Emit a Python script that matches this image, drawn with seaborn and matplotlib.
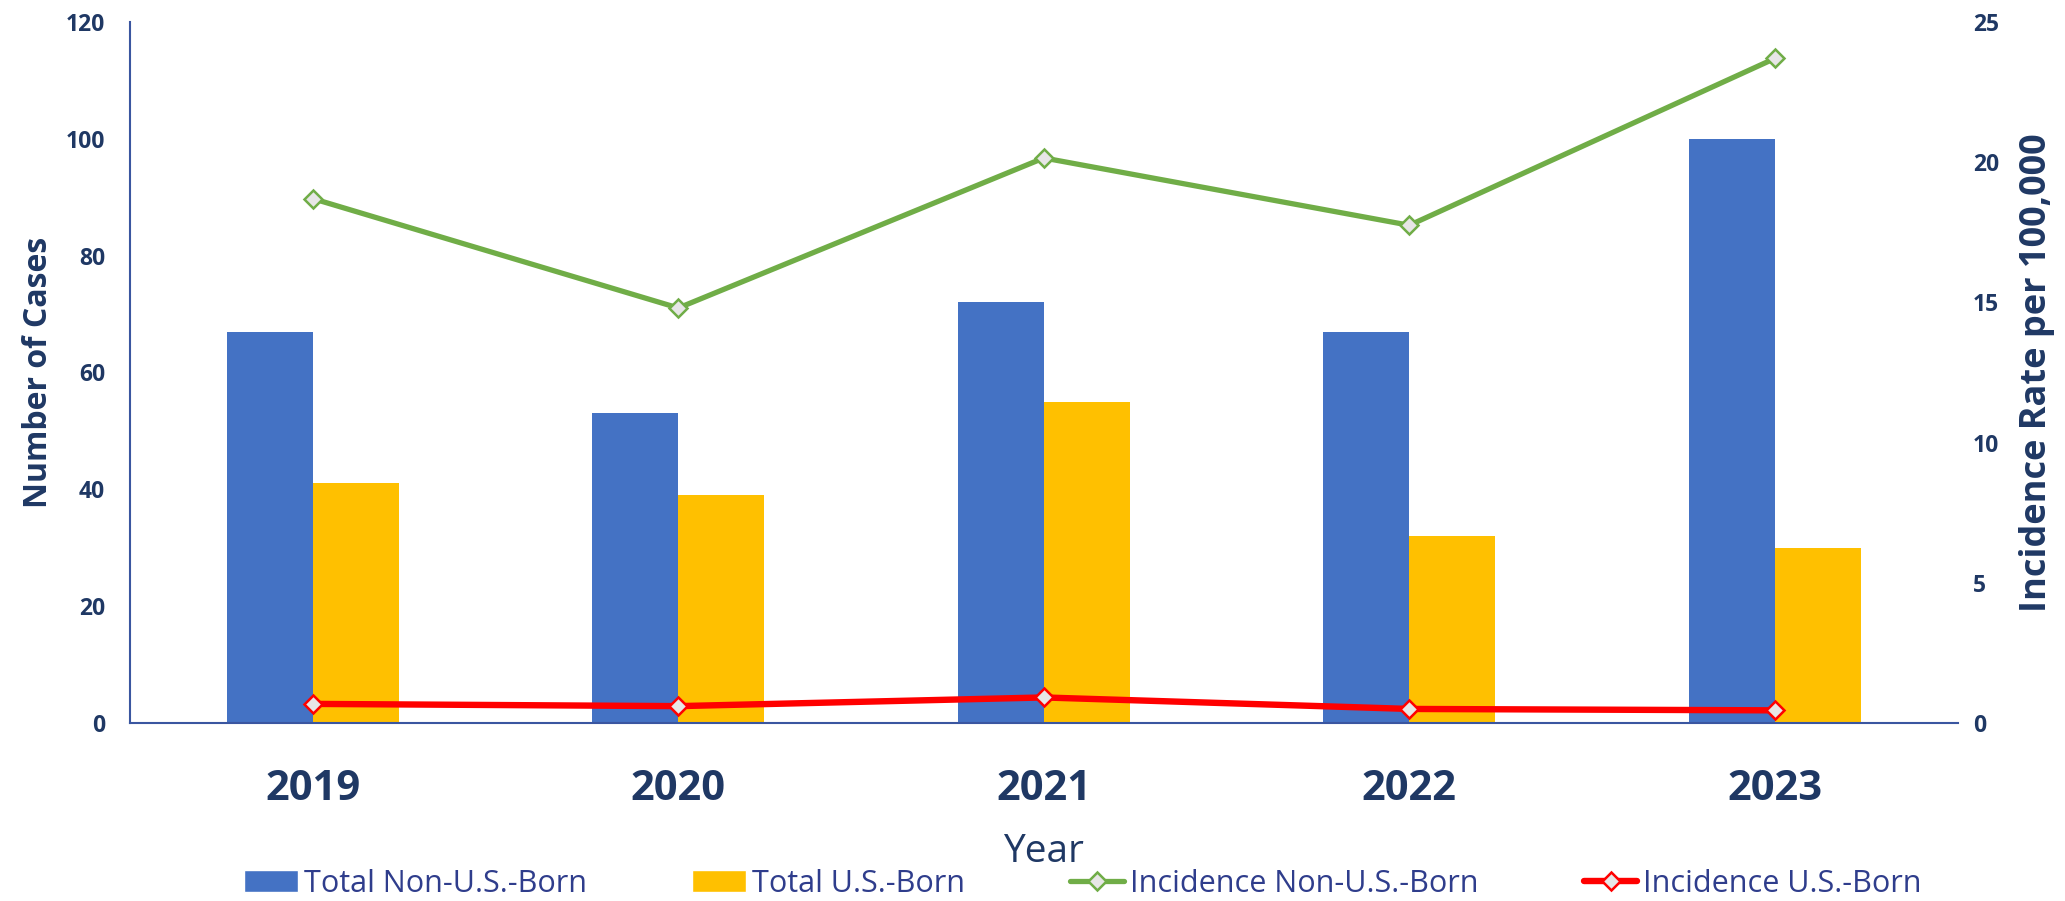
import numpy as np
import pandas as pd
import seaborn as sns
import matplotlib.pyplot as plt
from matplotlib.lines import Line2D
from matplotlib.patches import Patch

# Data
years = ['2019', '2020', '2021', '2022', '2023']
non_us_cases = [67, 53, 72, 67, 100]
us_cases = [41, 39, 55, 32, 30]
non_us_rate = [18.7, 14.8, 20.15, 17.75, 23.7]
us_rate = [0.68, 0.6, 0.91, 0.5, 0.45]

bar_labels = ['Total Non-U.S.-Born', 'Total U.S.-Born']
line_labels = ['Incidence Non-U.S.-Born', 'Incidence U.S.-Born']

bar_colors = ['#4472C4', '#FFC000']
line_colors = ['#70AD47', '#FF0000']
line_widths = [3.8, 4.6]
navy = '#1F3864'
axis_blue = '#3A56A0'
legend_blue = '#2F3D8C'

sns.set_style('white')
plt.rcParams['font.family'] = ['Open Sans', 'DejaVu Sans']

# Long format for the grouped bars
df = pd.DataFrame({
    'Year': years * 2,
    'Cases': non_us_cases + us_cases,
    'Group': [bar_labels[0]] * len(years) + [bar_labels[1]] * len(years),
})

fig = plt.figure(figsize=(20.65, 9.01), dpi=100)
ax = fig.add_axes([0.063, 0.1976, 0.885, 0.778])

sns.barplot(data=df, x='Year', y='Cases', hue='Group', palette=bar_colors,
            width=0.47, saturation=1, errorbar=None, legend=False,
            linewidth=0, ax=ax)

# Incidence lines on the secondary axis
ax2 = ax.twinx()
pos = np.arange(len(years))
for rate, col, lw in zip([non_us_rate, us_rate], line_colors, line_widths):
    sns.lineplot(x=pos, y=rate, ax=ax2, color=col, linewidth=lw,
                 marker='D', markersize=9, markerfacecolor='#E7E6E6',
                 markeredgecolor=col, markeredgewidth=1.8)

# Axis limits and ticks
ax.set_xlim(-0.5, len(years) - 0.5)
ax.set_ylim(0, 120)
ax.set_yticks(range(0, 121, 20))
ax2.set_ylim(0, 25)
ax2.set_yticks(range(0, 26, 5))

ax.set_xticks(pos)
ax.set_xticklabels(years)
ax.set_xticks(np.arange(-0.5, len(years), 1), minor=True)
ax.tick_params(axis='x', which='major', length=0, pad=33, labelsize=30,
               labelcolor=navy)
ax.tick_params(axis='x', which='minor', length=11, width=1.5,
               color=axis_blue, direction='out')
ax.tick_params(axis='y', length=0, pad=18, labelsize=16.5, labelcolor=navy)
ax2.tick_params(axis='y', length=0, pad=11, labelsize=16.5, labelcolor=navy)
for lab in ax.get_xticklabels() + ax.get_yticklabels() + ax2.get_yticklabels():
    lab.set_fontweight('bold')

# Spines
for s in ['top', 'right']:
    ax.spines[s].set_visible(False)
for s in ['left', 'bottom']:
    ax.spines[s].set_color(axis_blue)
    ax.spines[s].set_linewidth(1.5)
for s in ax2.spines.values():
    s.set_visible(False)

# Labels
ax.set_xlabel('Year', fontsize=28, color=navy, labelpad=17)
ax.set_ylabel('Number of Cases', fontsize=23, fontweight='bold', color=navy,
              labelpad=8)
ax2.set_ylabel('Incidence Rate per 100,000', fontsize=26, fontweight='bold',
               color=navy, labelpad=14)

# Legend along the bottom
handles = [Patch(facecolor=c) for c in bar_colors]
handles += [Line2D([], [], color=c, linewidth=lw, marker='D', markersize=9,
                   markerfacecolor='#E7E6E6', markeredgecolor=c,
                   markeredgewidth=1.8)
            for c, lw in zip(line_colors, line_widths)]
fig.legend(handles, bar_labels + line_labels, loc='center',
           bbox_to_anchor=(0.5245, 0.019), ncol=4, frameon=False, fontsize=22,
           handlelength=1.75, handletextpad=0.2, columnspacing=3.45,
           labelcolor=legend_blue)

fig.savefig('out.png', dpi=100)
